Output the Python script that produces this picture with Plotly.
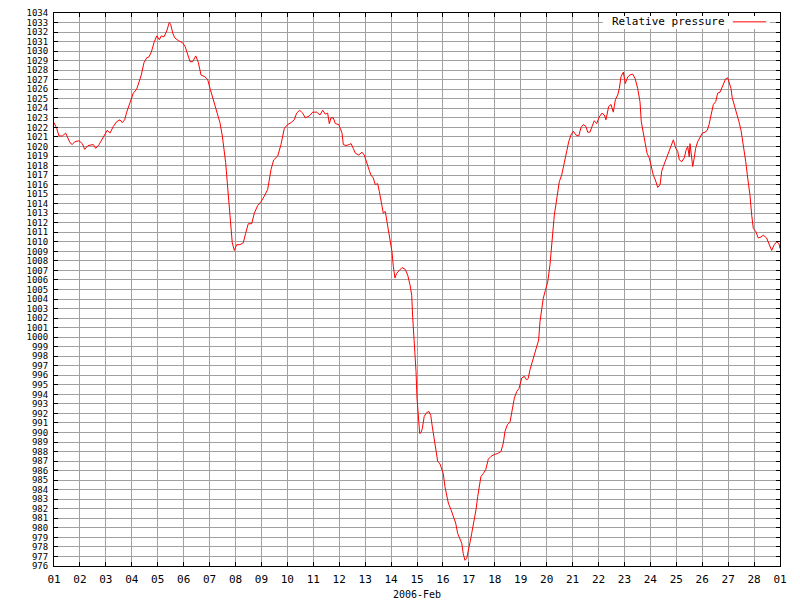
import plotly.graph_objects as go
import pandas as pd

# hours since 2006-02-01 00:00
hours = [0.0, 2.5, 4.6, 7.7, 10.8, 12.3, 14.8, 16.9, 19.2, 23.1, 26.2, 28.4, 31.5, 36.4, 38.6, 41.7,
         46.3, 49.3, 51.8, 54.9, 58.0, 61.1, 63.2, 65.4, 67.3, 70.3, 73.4, 76.5, 78.7, 80.8, 83.3,
         85.8, 87.9, 90.1, 92.6, 95.1, 97.5, 99.3, 101.8, 104.3, 106.7, 108.0, 109.9, 111.7,
         115.1, 118.8, 121.3, 123.8, 125.9, 128.4, 131.2, 133.6, 136.1, 139.8, 142.3, 144.4, 147.4,
         150.6, 153.6, 155.8, 157.6, 158.9, 160.4, 162.3, 163.8, 165.0, 166.9, 169.1, 172.2, 175.2,
         177.4, 179.8, 183.0, 185.4, 188.5, 191.6, 194.7, 197.8, 200.9, 203.4, 207.1, 210.1, 213.2,
         216.3, 219.4, 222.4, 224.6, 227.4,
         230.2, 232.6, 236.3, 239.5, 243.2, 246.2, 248.7, 251.1, 253.3, 254.8, 256.4, 258.5, 260.4,
         263.5, 265.0, 266.6, 267.8, 270.3, 273.3, 275.0, 277.0, 278.9, 282.0, 285.1, 287.2, 289.4,
         291.8, 293.4, 295.5, 297.4, 299.6, 301.1, 302.7, 304.8, 306.6, 307.9, 309.8, 311.0, 312.8,
         314.1, 315.6, 317.2, 319.6, 322.1, 325.2, 327.4, 329.5, 331.1, 332.0, 333.2, 334.1, 335.1,
         336.0, 337.2, 338.5,
         339.7, 340.9, 342.7, 345.0, 347.1, 348.7, 350.2, 351.7, 353.3, 355.1, 357.3, 358.9, 360.3,
         361.9, 363.5, 365.0, 367.5, 369.6, 371.8, 373.7, 375.8, 377.4, 378.8, 380.4, 382.0, 383.5,
         385.1, 386.6, 388.7, 390.6, 392.2, 393.7, 395.2, 397.4, 399.6, 402.0, 404.5, 407.6, 410.7,
         413.7, 415.9, 417.4, 419.6, 422.1, 424.2, 426.1, 428.3, 430.4, 432.9, 435.3, 437.5, 439.0,
         440.6, 442.9,
         446.1, 448.6, 449.8, 451.7, 452.9, 454.8, 457.0, 459.1, 460.3, 461.6, 463.1, 464.7, 466.2,
         467.7, 469.9, 471.8, 473.3, 474.8, 476.4, 478.5, 480.7, 483.2, 485.7, 487.8, 490.0, 492.4,
         494.0, 496.1, 498.0, 500.1, 502.3, 504.7, 507.2, 509.4, 510.9, 513.4, 515.6, 517.7, 519.6,
         521.8, 523.3, 524.8, 527.0, 528.8, 531.1, 533.1, 535.6, 538.0, 540.2, 542.4, 543.6, 545.4,
         547.3, 548.9, 551.0, 552.9, 554.7, 556.6, 558.8,
         561.0, 562.5, 564.0, 567.2, 569.3, 571.8, 573.3, 575.5, 577.3, 578.8, 581.0, 583.4, 585.0,
         586.6, 588.0, 588.7, 590.2, 591.2, 592.6, 593.9, 595.8, 597.9, 600.1, 602.6, 604.7, 606.3,
         608.1, 610.3, 612.5, 614.3, 616.5, 618.0, 619.5, 621.7, 623.6, 624.8, 626.6, 627.8, 629.7,
         631.9, 634.0, 635.9, 638.0, 640.3, 642.1, 644.2, 645.8, 647.3, 649.5, 651.9, 654.4, 656.5,
         659.6, 661.8, 664.3, 666.7, 668.9, 671.1, 672.0]

pressure = [1022.5, 1021.9, 1021.1, 1021.1, 1021.4, 1021.0, 1020.4, 1020.2, 1020.5, 1020.6, 1020.3,
            1019.7, 1020.1, 1020.2, 1019.8, 1020.2, 1021.1, 1021.7, 1021.4, 1022.1, 1022.6, 1022.8,
            1022.5, 1022.8, 1023.6, 1024.7, 1025.6, 1026.0, 1026.7, 1027.5, 1028.8, 1029.3, 1029.4,
            1029.9, 1030.9, 1031.6, 1031.2, 1031.6, 1031.5, 1032.1, 1033.0, 1032.8, 1031.9, 1031.4,
            1031.1, 1030.9, 1030.5, 1029.6, 1028.9, 1028.9, 1029.5, 1028.8, 1027.5, 1027.3, 1027.0,
            1026.1, 1024.9, 1023.5, 1022.5, 1021.1, 1019.7, 1018.3, 1016.2, 1013.7, 1011.6, 1009.9,
            1009.1, 1009.7, 1009.7, 1009.9, 1010.9, 1011.9, 1011.9, 1013.0, 1013.8, 1014.2, 1014.8,
            1015.5, 1017.6, 1018.6, 1019.0, 1020.2, 1021.9, 1022.3, 1022.5, 1022.8, 1023.5, 1023.8,
            1023.5, 1023.0, 1023.2, 1023.6, 1023.6, 1023.3, 1023.8, 1023.4, 1023.5, 1022.4, 1023.0,
            1023.0, 1022.4, 1022.3, 1021.9, 1021.4, 1020.2, 1020.1, 1020.2, 1020.3, 1019.8, 1019.3,
            1019.1, 1019.4, 1019.1, 1018.2, 1017.5, 1017.0, 1016.7, 1016.0, 1016.1, 1015.3, 1014.2,
            1013.0, 1013.2, 1012.3, 1011.4, 1010.2, 1009.0, 1007.4, 1006.2, 1006.7, 1007.0, 1007.3,
            1007.1, 1006.5, 1005.5, 1004.4, 1002.1, 1000.2, 998.3, 996.4, 993.6, 991.8, 989.9,
            990.0, 990.4, 991.7, 992.1, 992.2, 991.8, 990.6, 989.4, 988.2, 987.0, 986.7, 986.2,
            985.7, 984.3, 983.4, 982.6, 981.9, 981.3, 980.5, 979.4, 978.7, 978.4, 977.3, 976.6,
            976.8, 977.5, 978.5, 979.4, 980.6, 981.9, 983.3, 984.3, 985.4, 985.7, 986.1, 987.2,
            987.5, 987.7, 987.8, 988.0, 988.9, 990.1, 990.8, 991.1, 992.4, 993.6, 994.3, 994.6,
            995.7, 995.9, 995.5, 995.7, 996.6, 997.5,
            998.8, 999.7, 1001.6, 1003.0, 1004.1, 1004.9, 1005.8, 1007.6, 1009.3, 1011.4, 1012.8,
            1014.0, 1015.3, 1016.3, 1017.0, 1017.9, 1018.8, 1019.6, 1020.5, 1021.2, 1021.6, 1021.2,
            1021.1, 1022.0, 1022.3, 1022.1, 1021.5, 1021.5, 1022.1, 1022.7, 1022.4, 1023.1, 1023.5,
            1023.3, 1022.8, 1024.2, 1024.4, 1023.6, 1024.9, 1025.4, 1026.1, 1027.3, 1027.8, 1026.6,
            1027.3, 1027.5, 1027.6, 1027.1, 1026.1, 1024.7, 1022.6, 1021.5, 1020.2, 1019.3, 1018.8,
            1017.9, 1017.0, 1016.5, 1015.7,
            1016.0, 1017.4, 1017.9, 1018.8, 1019.6, 1020.3, 1020.7, 1019.8, 1019.5, 1018.6, 1018.4,
            1018.8, 1019.6, 1020.0, 1018.9, 1020.3, 1018.4, 1017.9, 1018.8, 1019.8, 1020.5, 1021.0,
            1021.4, 1021.5, 1021.7, 1022.3, 1023.3, 1024.4, 1024.7, 1025.6, 1025.7, 1026.1, 1026.5,
            1027.1, 1027.2, 1026.8, 1026.1, 1025.1, 1024.4, 1023.5, 1022.6, 1021.7, 1020.2, 1018.4,
            1016.7, 1014.9, 1012.8, 1011.4, 1011.1, 1010.4, 1010.5, 1010.7, 1010.4, 1009.7, 1009.1,
            1009.7, 1010.0, 1009.8, 1009.3]

series_name = "Relative pressure"
month_label = "2006-Feb"
y_min, y_max = 976, 1034

start = pd.Timestamp("2006-02-01")
times = start + pd.to_timedelta(hours, unit="h")

FONT = "DejaVu Sans Mono"
GRID = "#a0a0a0"
RED = "#ff0000"

fig = go.Figure()
fig.add_trace(go.Scatter(x=times, y=pressure, mode="lines", name=series_name,
                         line=dict(color=RED, width=1), showlegend=False))

fig.update_layout(
    width=800, height=600,
    margin=dict(l=54, r=20, t=13, b=34, pad=0),
    paper_bgcolor="white", plot_bgcolor="white",
    font=dict(family=FONT, size=11, color="black"),
    xaxis=dict(
        type="date",
        range=[start, pd.Timestamp("2006-03-01")],
        dtick=86400000, tick0=start, tickformat="%d",
        showgrid=True, gridcolor=GRID, gridwidth=1,
        ticks="inside", ticklen=4, tickcolor="black",
        showline=True, linecolor="black", linewidth=1, mirror="ticks",
        zeroline=False, automargin=False,
        ticklabelstandoff=3,
        title=dict(text=month_label, font=dict(family=FONT, size=10), standoff=12),
        tickfont=dict(family=FONT, size=11),
    ),
    yaxis=dict(
        range=[y_min, y_max], dtick=1, tick0=y_min,
        showgrid=True, gridcolor=GRID, gridwidth=1,
        ticks="inside", ticklen=4, tickcolor="black",
        showline=True, linecolor="black", linewidth=1, mirror="ticks",
        zeroline=False, automargin=False,
        ticklabelstandoff=3,
        tickfont=dict(family=FONT, size=9),
    ),
)

# legend box (text followed by the series' line key)
fig.add_shape(type="rect", xref="paper", yref="paper", x0=0.756, x1=0.986, y0=0.971, y1=0.9946,
              fillcolor="white", line=dict(width=0), layer="above")
fig.add_shape(type="line", xref="paper", yref="paper", x0=0.935, x1=0.981, y0=0.984, y1=0.984,
              line=dict(color=RED, width=1), layer="above")
fig.add_annotation(
    xref="paper", yref="paper", x=0.927, y=0.984, xanchor="right", yanchor="middle",
    text=series_name, showarrow=False,
    font=dict(family=FONT, size=11, color="black"),
)

fig.write_html("out.html")
